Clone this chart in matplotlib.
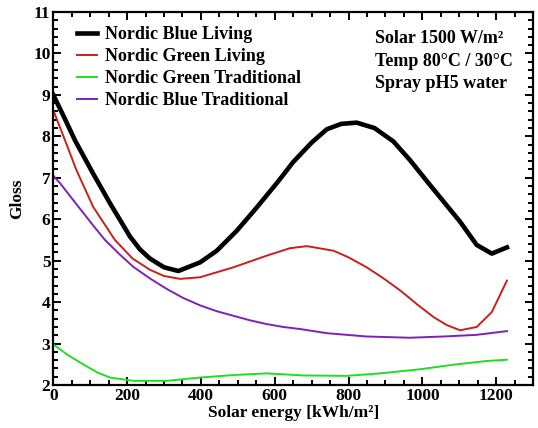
import matplotlib
matplotlib.use("Agg")
import matplotlib.pyplot as plt
from matplotlib.ticker import MultipleLocator

# gloss vs. solar energy
blue_living_x = [0, 30, 59, 108, 154, 208, 235, 262, 300, 339, 398, 443, 497, 551, 610, 650,
                 700, 741, 780, 822, 870, 921, 965, 1012, 1055, 1102, 1147, 1188, 1229]
blue_living_y = [9.0, 8.45, 7.90, 7.10, 6.38, 5.58, 5.27, 5.05, 4.84, 4.75, 4.96, 5.24, 5.72,
                 6.28, 6.92, 7.38, 7.85, 8.17, 8.30, 8.33, 8.20, 7.88, 7.44, 6.92, 6.45, 5.94,
                 5.38, 5.17, 5.32]

green_living_x = [0, 32, 63, 108, 167, 215, 262, 300, 343, 398, 488, 578, 641, 687, 759, 800,
                  849, 895, 940, 985, 1030, 1065, 1102, 1147, 1188, 1229]
green_living_y = [8.63, 7.90, 7.18, 6.30, 5.50, 5.05, 4.78, 4.63, 4.56, 4.60, 4.84, 5.12, 5.30,
                  5.35, 5.24, 5.08, 4.84, 4.57, 4.28, 3.95, 3.64, 3.45, 3.32, 3.40, 3.76, 4.52]

green_trad_x = [0, 40, 81, 120, 154, 217, 307, 398, 488, 578, 678, 795, 885, 994, 1084, 1175, 1229]
green_trad_y = [2.98, 2.72, 2.50, 2.30, 2.18, 2.10, 2.10, 2.18, 2.24, 2.28, 2.23, 2.22, 2.28,
                2.38, 2.49, 2.58, 2.61]

blue_trad_x = [0, 20, 63, 108, 140, 180, 217, 262, 307, 352, 398, 443, 488, 533, 578, 623,
               669, 741, 849, 966, 1057, 1147, 1229]
blue_trad_y = [7.05, 6.85, 6.36, 5.85, 5.50, 5.15, 4.85, 4.57, 4.32, 4.10, 3.92, 3.78, 3.67,
               3.56, 3.47, 3.40, 3.35, 3.25, 3.17, 3.14, 3.17, 3.21, 3.30]

conditions = ["Solar 1500 W/m²", "Temp 80°C / 30°C", "Spray pH5 water"]

plt.rcParams['font.family'] = ['Liberation Serif', 'DejaVu Serif']
plt.rcParams['font.weight'] = 'bold'

fig = plt.figure(figsize=(5.38, 4.28), dpi=100)
ax = fig.add_axes([0.099, 0.1005, 0.892, 0.8715])

ax.plot(blue_living_x, blue_living_y, color='black', lw=3.3, label='Nordic Blue Living')
ax.plot(green_living_x, green_living_y, color='#c8201e', lw=1.4, label='Nordic Green Living')
ax.plot(green_trad_x, green_trad_y, color='#22dd22', lw=1.4, label='Nordic Green Traditional')
ax.plot(blue_trad_x, blue_trad_y, color='#7a22bb', lw=1.4, label='Nordic Blue Traditional')

ax.set_xlim(0, 1300)
ax.set_ylim(2, 11)
ax.xaxis.set_major_locator(MultipleLocator(200))
ax.xaxis.set_minor_locator(MultipleLocator(50))
ax.yaxis.set_major_locator(MultipleLocator(1))
ax.yaxis.set_minor_locator(MultipleLocator(0.2))
ax.tick_params(which='both', direction='in', top=True, right=True, width=1.4,
               labelsize=12.5, pad=2)
ax.tick_params(which='major', length=6)
ax.tick_params(which='minor', length=3.5)
for lab in ax.get_xticklabels() + ax.get_yticklabels():
    lab.set_fontweight('bold')
for sp in ax.spines.values():
    sp.set_linewidth(1.6)

ax.set_xlabel('Solar energy [kWh/m²]', fontsize=12.5, fontweight='bold', labelpad=1)
ax.set_ylabel('Gloss', fontsize=12.5, fontweight='bold', labelpad=6)

ax.legend(loc='upper left', frameon=False, handlelength=1.1, handletextpad=0.45,
          labelspacing=0.28, borderpad=0, borderaxespad=0,
          bbox_to_anchor=(0.05, 0.962), prop={'weight': 'bold', 'size': 13})

cond_y = [0.928, 0.868, 0.808]
for txt, yy in zip(conditions, cond_y):
    ax.text(0.671, yy, txt, transform=ax.transAxes, fontsize=13,
            fontweight='bold', va='center', ha='left')

fig.savefig('out.png', dpi=100)
